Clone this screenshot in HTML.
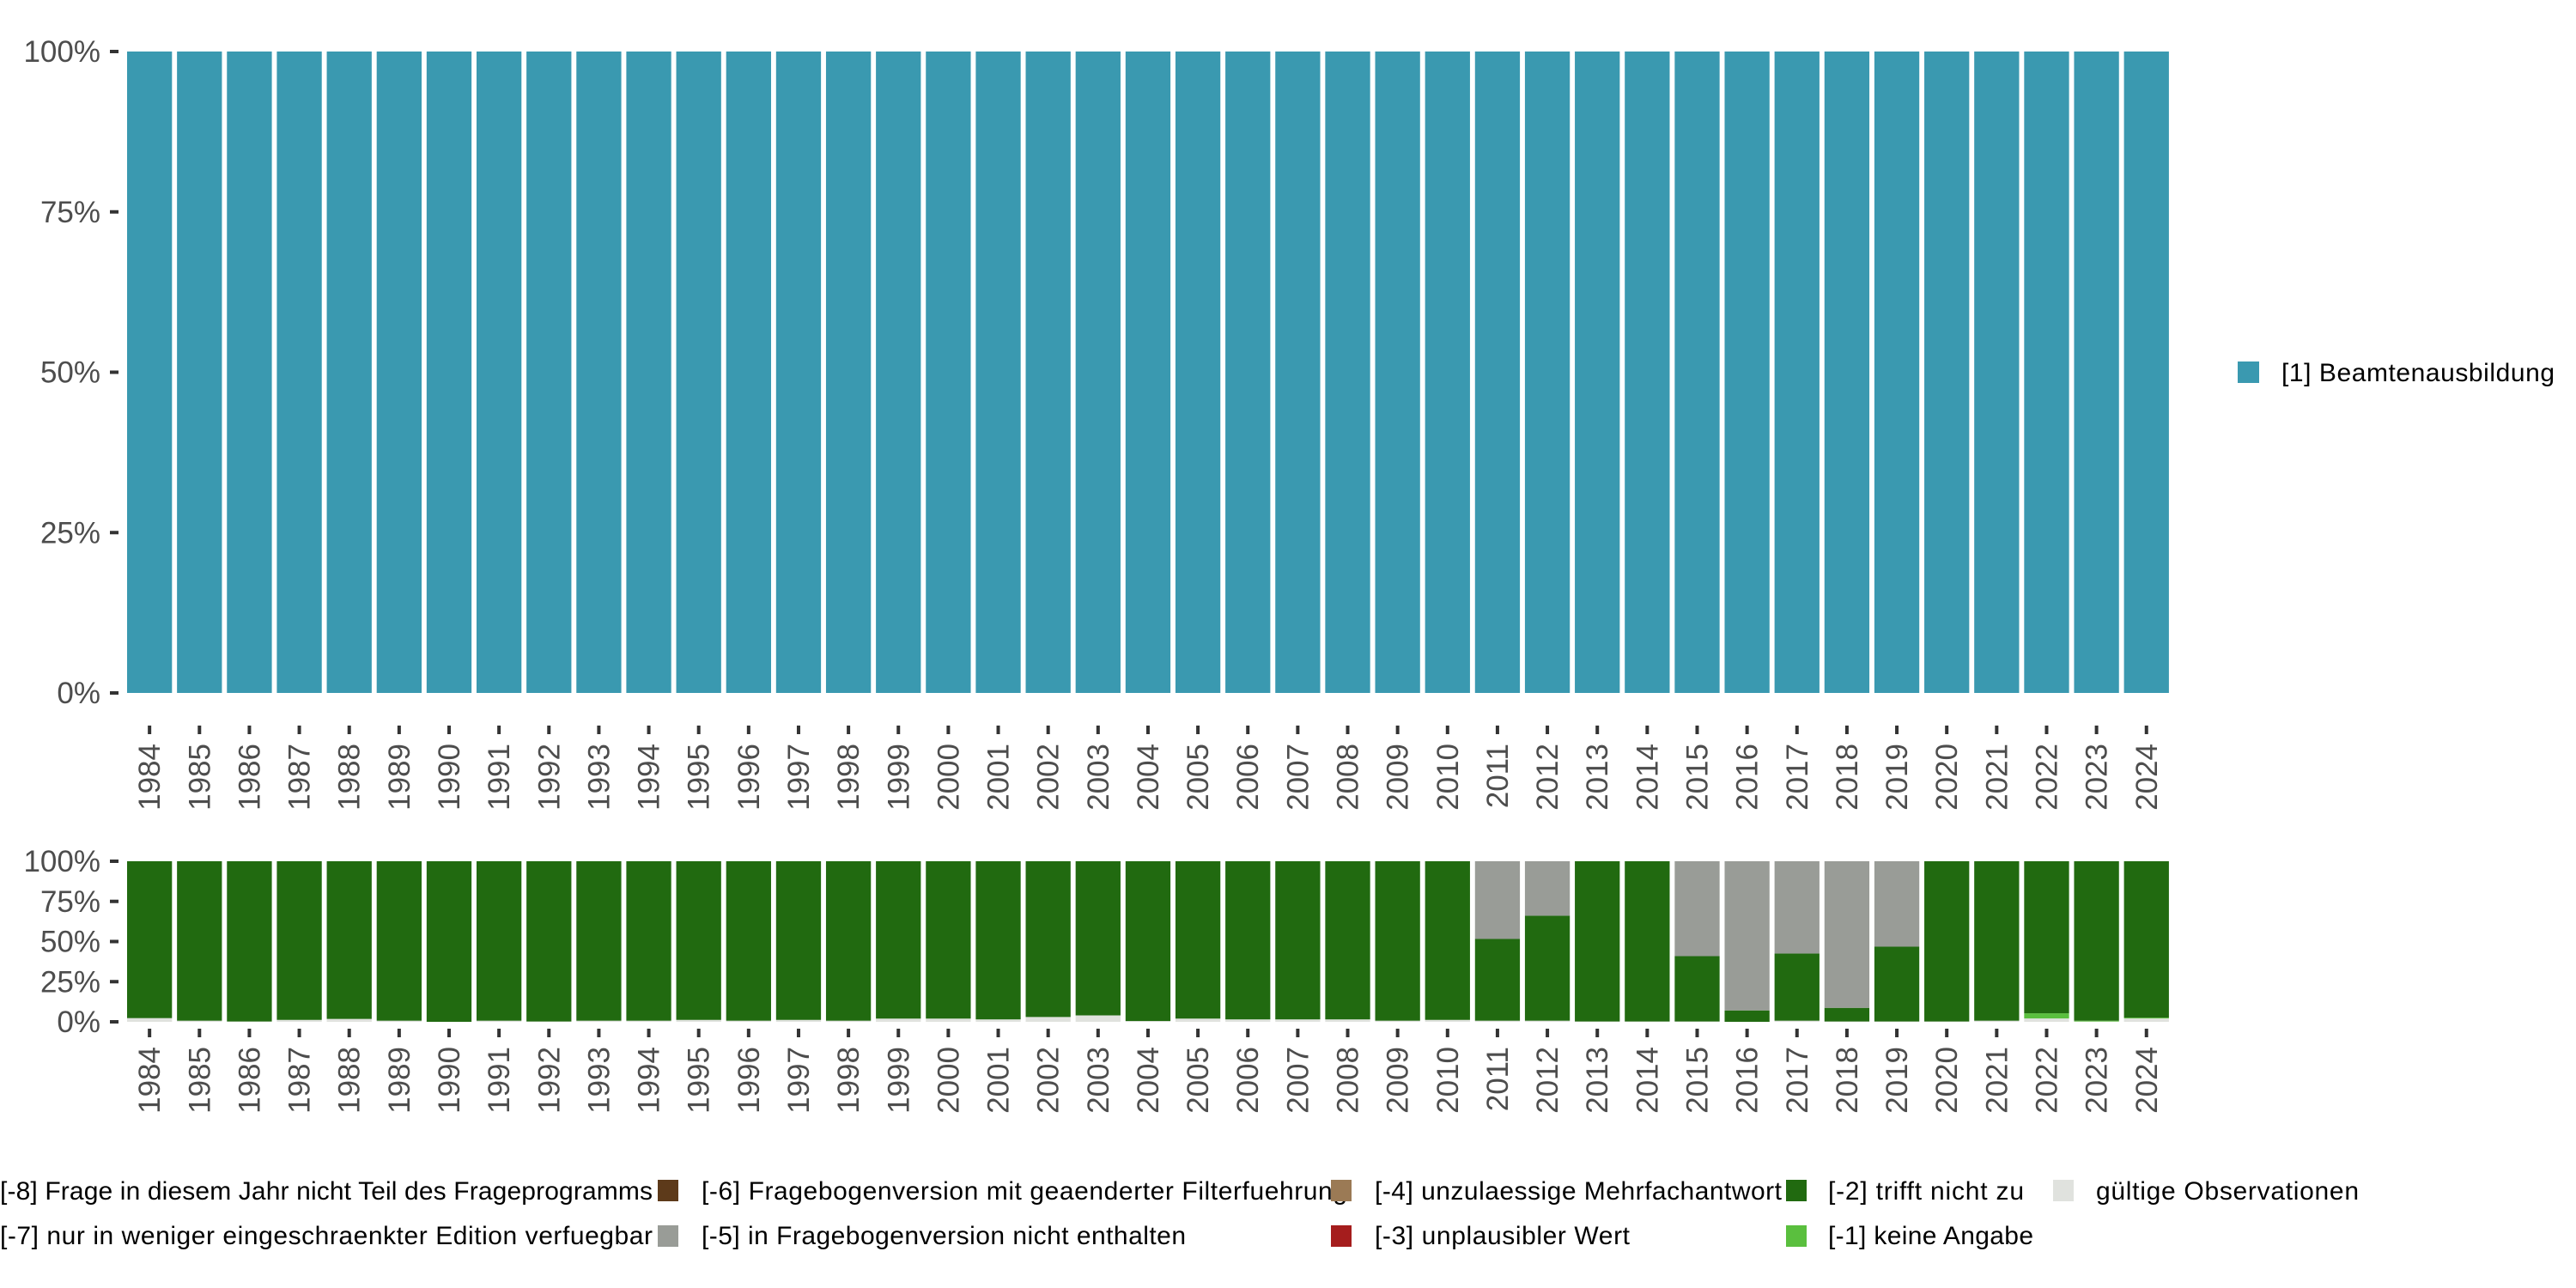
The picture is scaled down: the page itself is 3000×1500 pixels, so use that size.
<!DOCTYPE html>
<html><head><meta charset="utf-8"><style>
html,body{margin:0;padding:0;background:#fff;}
svg{display:block;font-family:"Liberation Sans",sans-serif;}
</style></head><body>
<svg id="chart" width="3000" height="1500" viewBox="0 0 3000 1500" xmlns="http://www.w3.org/2000/svg">
<g id="top"></g>
<g id="bot"></g>
<g>
<rect x="2606" y="421" width="25" height="25" fill="#3a99b0"/>
<text x="2657" y="444" font-size="30" fill="#000" textLength="318">[1] Beamtenausbildung</text>
</g>
<g font-size="30" fill="#000">
<text x="0" y="1397" textLength="760">[-8] Frage in diesem Jahr nicht Teil des Frageprogramms</text>
<rect x="766" y="1374" width="24" height="25" fill="#5d3a1a"/>
<text x="817" y="1397" textLength="752">[-6] Fragebogenversion mit geaenderter Filterfuehrung</text>
<rect x="1550" y="1374" width="24" height="25" fill="#9b7a55"/>
<text x="1601" y="1397" textLength="474">[-4] unzulaessige Mehrfachantwort</text>
<rect x="2080" y="1374" width="24" height="25" fill="#216a10"/>
<text x="2129" y="1397" textLength="228">[-2] trifft nicht zu</text>
<rect x="2391" y="1374" width="24" height="25" fill="#e0e2de"/>
<text x="2441" y="1397" textLength="306">gültige Observationen</text>
<text x="0" y="1449" textLength="760">[-7] nur in weniger eingeschraenkter Edition verfuegbar</text>
<rect x="766" y="1427" width="24" height="25" fill="#999c97"/>
<text x="817" y="1449" textLength="564">[-5] in Fragebogenversion nicht enthalten</text>
<rect x="1550" y="1427" width="24" height="25" fill="#a51d1d"/>
<text x="1601" y="1449" textLength="297">[-3] unplausibler Wert</text>
<rect x="2080" y="1427" width="24" height="25" fill="#5abf3e"/>
<text x="2129" y="1449" textLength="239">[-1] keine Angabe</text>
</g>
</svg>
<script>
const years = [1984,1985,1986,1987,1988,1989,1990,1991,1992,1993,1994,1995,1996,1997,1998,1999,2000,2001,2002,2003,2004,2005,2006,2007,2008,2009,2010,2011,2012,2013,2014,2015,2016,2017,2018,2019,2020,2021,2022,2023,2024];
const beamten = [100,100,100,100,100,100,100,100,100,100,100,100,100,100,100,100,100,100,100,100,100,100,100,100,100,100,100,100,100,100,100,100,100,100,100,100,100,100,100,100,100];
const valid = [2.3,0.7,0.2,1.2,1.8,0.7,0,0.7,0.2,0.7,0.7,1.2,0.7,1.2,0.7,2,2,1.5,3,4,0.5,2,1.5,1.5,1.5,0.7,1.2,0.7,0.7,0.2,0.2,0.2,0,0.7,0.2,0.2,0.2,0.7,2.1,0.2,2.1];
const keineAngabe = [0,0,0,0,0,0,0,0,0,0,0,0,0,0,0,0,0,0,0,0,0,0,0,0,0,0,0,0,0,0,0,0,0,0,0,0,0,0,3.2,0.5,0.5];
const trifftNicht = [97.7,99.3,99.8,98.8,98.2,99.3,100,99.3,99.8,99.3,99.3,98.8,99.3,98.8,99.3,98,98,98.5,97,96,99.5,98,98.5,98.5,98.5,99.3,98.8,50.9,65.4,99.8,99.8,40.7,7.1,41.8,8.5,46.6,99.8,99.3,94.7,99.3,97.4];
const nichtEnthalten = [0,0,0,0,0,0,0,0,0,0,0,0,0,0,0,0,0,0,0,0,0,0,0,0,0,0,0,48.4,33.9,0,0,59.1,92.9,57.5,91.3,53.2,0,0,0,0,0];
const yTicks = [0,25,50,75,100];
const yTickLabels = ["0%","25%","50%","75%","100%"];

const NS="http://www.w3.org/2000/svg";
function mk(tag,attrs,parent){const e=document.createElementNS(NS,tag);for(const k in attrs)e.setAttribute(k,attrs[k]);parent.appendChild(e);return e;}
const X0=148, PITCH=58.14, BW=52.3;
function xBand(i){return X0+i*PITCH;}
function xCenter(i){return xBand(i)+BW/2;}

function panel(g,top,bottom,series,colors,names,tickTop){
  const y=v=>bottom-(v/100)*(bottom-top);
  // y axis
  yTicks.forEach((t,k)=>{
    const tk=mk('rect',{x:128,y:y(t)-2,width:10,height:4,fill:'#333'},g);
    
    
    const tx=mk('text',{x:117,y:y(t)+12,'text-anchor':'end','font-size':35,fill:'#4d4d4d'},g);
    tx.textContent=yTickLabels[k];
    
    
  });
  years.forEach((yr,i)=>{
    let acc=0;
    series.forEach((s,j)=>{
      const v=s[i];
      if(v>0){
        const r=mk('rect',{x:xBand(i),y:y(acc+v),width:BW,height:y(acc)-y(acc+v),fill:colors[j]},g);
        
        
      }
      acc+=v;
    });
    const cx=xCenter(i);
    const tk=mk('rect',{x:cx-2,y:tickTop,width:4,height:10,fill:'#333'},g);
    
    
    const tx=mk('text',{transform:'translate('+(cx+12)+','+(tickTop+21)+') rotate(-90)','text-anchor':'end','font-size':35,fill:'#4d4d4d'},g);
    tx.textContent=String(yr);
    
    
  });
}
panel(document.getElementById('top'),60,807,[beamten],['#3a99b0'],['beamtenausbildung'],845);
panel(document.getElementById('bot'),1003,1190,[valid,keineAngabe,trifftNicht,nichtEnthalten],['#e0e2de','#5abf3e','#216a10','#999c97'],['valid','keine-angabe','trifft-nicht-zu','nicht-enthalten'],1198);
</script>
</body></html>
